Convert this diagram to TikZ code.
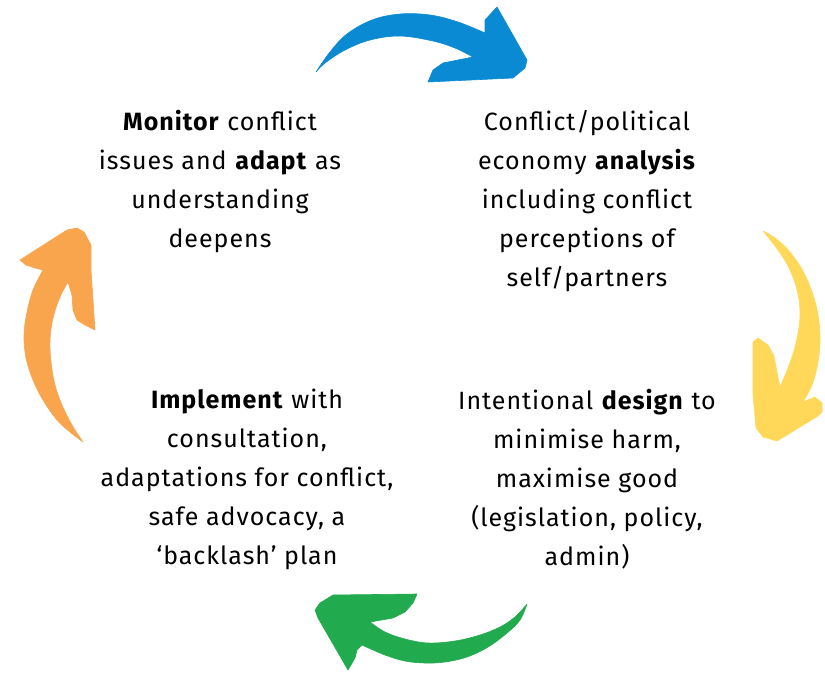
\documentclass[tikz,border=0pt]{standalone}
\usepackage{fontspec}
\setmainfont{Fira Sans}[LetterSpace=4]
\definecolor{cycblue}{HTML}{0A8AD2}
\definecolor{cycyellow}{HTML}{FFD85A}
\definecolor{cycgreen}{HTML}{22AA4F}
\definecolor{cycorange}{HTML}{F9A54E}
\begin{document}
\begin{tikzpicture}[x=1pt,y=-1pt,
  stagetext/.style={align=center,anchor=north,inner sep=0pt,
    font=\fontsize{25}{39}\selectfont},
  arrowfill/.style={fill=#1,draw=#1,line width=0.6pt,line join=round}]
\useasboundingbox (0,0) rectangle (825,673);

% blue arrow (top), tail on the left, head on the right
\path[arrowfill=cycblue]
  plot[smooth,tension=0.6] coordinates {(316,72) (330,52) (347,34) (372,20) (400,14) (430,15) (458,22) (485,33)}
  -- (485,20) -- (497,7) -- (527,60) -- (525,68) -- (513,78) -- (428,82)
  -- (433,70) -- (443,63) -- (473,57)
  -- plot[smooth,tension=0.6] coordinates {(473,57) (455,48) (433,41) (400,36) (370,40) (345,50) (325,63) (316,72)}
  -- cycle;

% yellow arrow (right), pointing down
\path[arrowfill=cycyellow]
  plot[smooth,tension=0.6] coordinates {(763,231) (775,238) (790,252) (805,275) (816,305) (820,335) (818,362) (812,385) (803,402)}
  -- (815,397) -- (822,403) -- (822,412) -- (818,416) -- (777,441) -- (763,437) -- (756,428)
  -- (753,395) -- (753,342) -- (758,338) -- (768,345) -- (774,356) -- (777,372) -- (780,387)
  -- plot[smooth,tension=0.6] coordinates {(780,387) (788,368) (796,343) (800,315) (797,290) (788,266) (775,246) (763,231)}
  -- cycle;

% green arrow (bottom), pointing left
\path[arrowfill=cycgreen]
  plot[smooth,tension=0.6] coordinates {(527,604) (520,620) (507,633) (488,647) (467,657) (445,662) (425,663) (405,661) (385,655) (362,645)}
  -- (357,650) -- (355,658) -- (348,670) -- (318,618) -- (315,610) -- (320,603) -- (333,595)
  -- (417,594) -- (413,603) -- (405,612) -- (393,618) -- (370,622)
  -- plot[smooth,tension=0.6] coordinates {(370,622) (385,632) (405,639) (428,643) (455,641) (480,635) (500,627) (515,617) (527,604)}
  -- cycle;

% orange arrow (left), pointing up
\path[arrowfill=cycorange]
  plot[smooth,tension=0.6] coordinates {(83,442) (70,432) (57,420) (43,400) (33,380) (26,358) (24,335) (27,312) (33,290) (43,270)}
  -- (35,268) -- (26,265) -- (20,260) -- (67,230) -- (77,228) -- (84,232) -- (91,245)
  -- (91,270) -- (93,300) -- (95,330) -- (85,325) -- (77,320) -- (73,310) -- (72,295) -- (68,282)
  -- plot[smooth,tension=0.6] coordinates {(68,282) (60,297) (53,318) (50,340) (51,362) (55,385) (62,405) (72,425) (83,442)}
  -- cycle;

% stage texts
\node[stagetext] (monitor) at (220,110)
  {\textbf{Monitor} conflict\\issues and \textbf{adapt} as\\understanding\\deepens};
\node[stagetext] (analysis) at (587,110)
  {Conflict/political\\economy \textbf{analysis}\\including conflict\\perceptions of\\self/partners};
\node[stagetext] (design) at (587,389)
  {Intentional \textbf{design} to\\minimise harm,\\maximise good\\(legislation, policy,\\admin)};
\node[stagetext] (implement) at (247,389)
  {\textbf{Implement} with\\consultation,\\adaptations for conflict,\\safe advocacy, a\\‘backlash’ plan};
\end{tikzpicture}
\end{document}
